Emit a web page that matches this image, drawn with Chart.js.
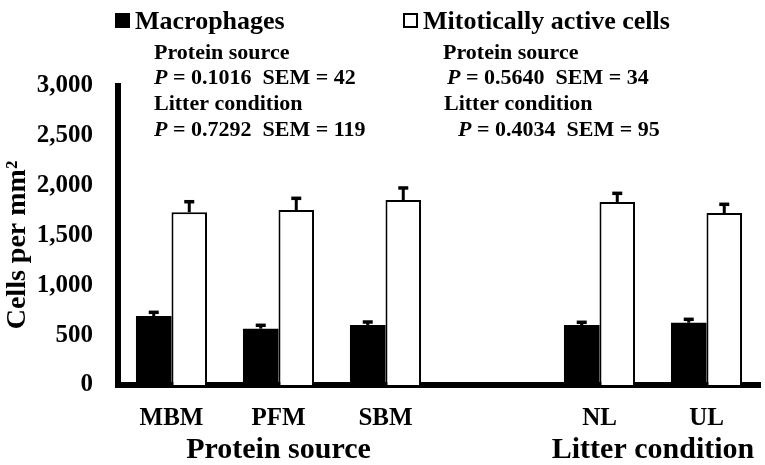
<!DOCTYPE html>
<html>
<head>
<meta charset="utf-8">
<script src="https://cdn.jsdelivr.net/npm/chart.js@4.4.0/dist/chart.umd.min.js"></script>
<style>
  html, body { margin: 0; padding: 0; background: #fff; }
  #wrap { width: 765px; height: 465px; }
</style>
</head>
<body>
<div id="wrap"><canvas id="c" width="765" height="465"></canvas></div>
<script>
const categories = ['MBM', 'PFM', 'SBM', '', 'NL', 'UL'];
const macrophages = [692, 565, 602, null, 602, 625];
const macrophagesErr = [37, 34, 30, null, 27, 34];
const mitotic = [1733, 1756, 1856, null, 1836, 1726];
const mitoticErr = [106, 117, 121, null, 87, 87];
const yTicks = [0, 500, 1000, 1500, 2000, 2500, 3000];
const seriesNames = ['Macrophages', 'Mitotically active cells'];
const groupTitles = [
  { text: 'Protein source', cats: [1] },
  { text: 'Litter condition', cats: [4, 5] }
];
const statsLeft = [
  ['Protein source', null],
  ['P', ' = 0.1016  SEM = 42'],
  ['Litter condition', null],
  ['P', ' = 0.7292  SEM = 119']
];
const statsRight = [
  ['Protein source', null],
  ['P', ' = 0.5640  SEM = 34'],
  ['Litter condition', null],
  ['P', ' = 0.4034  SEM = 95']
];
const yTitle = 'Cells per mm\u00B2';

const SERIF = '"Liberation Serif", "Times New Roman", serif';

const errorBars = {
  id: 'errorBars',
  afterDatasetsDraw(chart) {
    const ctx = chart.ctx;
    const yScale = chart.scales.y;
    const errs = [macrophagesErr, mitoticErr];
    chart.data.datasets.forEach((ds, di) => {
      const meta = chart.getDatasetMeta(di);
      meta.data.forEach((el, i) => {
        const v = ds.data[i];
        const e = errs[di][i];
        if (v == null || e == null) return;
        const yTop = yScale.getPixelForValue(v + e);
        const yBar = yScale.getPixelForValue(v);
        ctx.save();
        ctx.strokeStyle = '#000';
        ctx.lineWidth = 3;
        ctx.beginPath();
        ctx.moveTo(el.x, yBar);
        ctx.lineTo(el.x, yTop);
        ctx.stroke();
        ctx.lineWidth = 3.5;
        ctx.beginPath();
        ctx.moveTo(el.x - 5, yTop);
        ctx.lineTo(el.x + 5, yTop);
        ctx.stroke();
        ctx.restore();
      });
    });
  }
};

function drawStat(ctx, x, y, row, size) {
  if (row[1] === null) {
    ctx.font = 'bold ' + size + 'px ' + SERIF;
    ctx.fillText(row[0], x, y);
  } else {
    ctx.font = 'italic bold ' + size + 'px ' + SERIF;
    ctx.fillText(row[0], x, y);
    const w = ctx.measureText(row[0]).width;
    ctx.font = 'bold ' + size + 'px ' + SERIF;
    ctx.fillText(row[1], x + w, y);
  }
}

const extras = {
  id: 'extras',
  afterDraw(chart) {
    const ctx = chart.ctx;
    const xScale = chart.scales.x;
    ctx.save();
    ctx.fillStyle = '#000';
    ctx.textBaseline = 'alphabetic';
    ctx.textAlign = 'left';
    // legend
    ctx.fillRect(115, 13, 15, 15);
    ctx.lineWidth = 2;
    ctx.strokeStyle = '#000';
    ctx.strokeRect(404, 14, 13, 13);
    ctx.font = 'bold 26px ' + SERIF;
    ctx.fillText(seriesNames[0], 135, 29);
    ctx.fillText(seriesNames[1], 423, 29);
    // stats
    const base = [59, 84, 110, 136];
    const lx = [154, 154, 154, 154];
    const rx = [443, 447, 444, 458];
    statsLeft.forEach((row, i) => drawStat(ctx, lx[i], base[i], row, 22));
    statsRight.forEach((row, i) => drawStat(ctx, rx[i], base[i], row, 22));
    // group titles
    ctx.textAlign = 'center';
    ctx.font = 'bold 30px ' + SERIF;
    groupTitles.forEach(g => {
      const xs = g.cats.map(c => xScale.getPixelForValue(c));
      const cx = xs.reduce((a, b) => a + b, 0) / xs.length;
      ctx.fillText(g.text, cx, 458);
    });
    // y title
    ctx.translate(25, 245);
    ctx.rotate(-Math.PI / 2);
    ctx.font = 'bold 28px ' + SERIF;
    ctx.fillText(yTitle, 0, 0);
    ctx.restore();
  }
};

new Chart(document.getElementById('c'), {
  type: 'bar',
  data: {
    labels: categories,
    datasets: [
      {
        label: seriesNames[0],
        data: macrophages,
        backgroundColor: '#000',
        borderWidth: 0,
        categoryPercentage: 0.664,
        barPercentage: 1.0
      },
      {
        label: seriesNames[1],
        data: mitotic,
        backgroundColor: '#fff',
        borderColor: '#000',
        borderWidth: 2,
        borderSkipped: 'bottom',
        categoryPercentage: 0.664,
        barPercentage: 1.0
      }
    ]
  },
  options: {
    responsive: false,
    animation: false,
    devicePixelRatio: 1,
    layout: { padding: { top: 86, right: 5, left: 0, bottom: 0 } },
    plugins: { legend: { display: false }, tooltip: { enabled: false } },
    scales: {
      x: {
        grid: { display: false, drawTicks: false },
        border: { display: true, color: '#000', width: 6 },
        ticks: {
          color: '#000',
          padding: 19,
          font: { family: SERIF, size: 25, weight: 'bold' }
        },
        afterFit(scale) { scale.height = 80; }
      },
      y: {
        min: 0,
        max: 3000,
        grid: { display: false, drawTicks: false },
        border: { display: true, color: '#000', width: 6 },
        afterBuildTicks(scale) { scale.ticks = yTicks.map(v => ({ value: v })); },
        ticks: {
          color: '#000',
          padding: 25,
          font: { family: SERIF, size: 25, weight: 'bold' },
          callback: v => v.toLocaleString('en-US')
        },
        afterFit(scale) { scale.width = 118; }
      }
    }
  },
  plugins: [errorBars, extras]
});
</script>
</body>
</html>
